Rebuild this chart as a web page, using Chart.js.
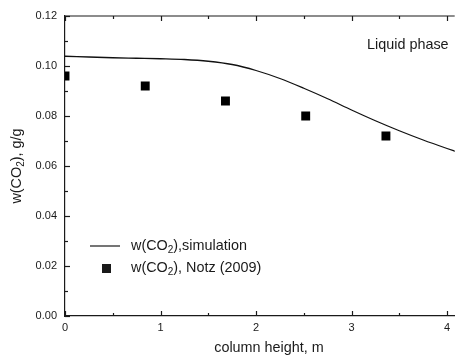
<!DOCTYPE html>
<html>
<head>
<meta charset="utf-8">
<script src="https://cdn.jsdelivr.net/npm/chart.js@4"></script>
<style>
  html, body { margin: 0; background: #fff; }
</style>
</head>
<body>
<canvas id="chart" width="461" height="356"></canvas>
<script>
// ── Data ─────────────────────────────────────────────────────────────────────
const simX = [0, 0.25, 0.5, 0.75, 1.0, 1.25, 1.5, 1.75, 2.0, 2.25, 2.5, 2.75, 3.0, 3.25, 3.5, 3.75, 4.0, 4.1];
const simY = [0.1039, 0.1036, 0.1033, 0.1031, 0.1029, 0.1026, 0.1019, 0.1006, 0.0982, 0.0950, 0.0911, 0.0869, 0.0824, 0.0781, 0.0741, 0.0704, 0.0670, 0.0657];

const notzX = [0, 0.84, 1.68, 2.52, 3.36];
const notzY = [0.096, 0.092, 0.086, 0.080, 0.072];

const xTicks = [0, 0.5, 1, 1.5, 2, 2.5, 3, 3.5, 4];
const yTicks = [0, 0.01, 0.02, 0.03, 0.04, 0.05, 0.06, 0.07, 0.08, 0.09, 0.10, 0.11, 0.12];

const X_TITLE = 'column height, m';
const NOTE = 'Liquid phase';

const FONT = "'Liberation Sans', Arial, sans-serif";
const INK = '#1a1a1a';

// ── text with a subscript part: parts = [[text, isSub], ...] ───────────────────
function partsWidth(ctx, parts) {
    return parts.reduce((w, [t, sub]) => {
        ctx.font = (sub ? '10px ' : '14.4px ') + FONT;
        return w + ctx.measureText(t).width;
    }, 0);
}
function drawParts(ctx, parts, x, y) {
    ctx.textBaseline = 'middle'; ctx.textAlign = 'left';
    parts.forEach(([t, sub]) => {
        ctx.font = (sub ? '10px ' : '14.4px ') + FONT;
        ctx.fillText(t, x, sub ? y + 4 : y);
        x += ctx.measureText(t).width;
    });
}

// ── frame, inward ticks, legend, labels ─────────────────────────────────────
const frame = {
    id: 'frame',
    afterDraw(chart) {
        const { ctx, chartArea: a, scales: { x, y } } = chart;
        const seg = (x1, y1, x2, y2) => { ctx.beginPath(); ctx.moveTo(x1, y1); ctx.lineTo(x2, y2); ctx.stroke(); };
        ctx.save();
        ctx.strokeStyle = INK; ctx.lineWidth = 1.2;
        seg(a.left, a.top, a.right, a.top);
        xTicks.forEach((v, i) => {
            const px = Math.round(x.getPixelForValue(v)) + 0.5, len = i % 2 ? 3 : 5;
            seg(px, a.bottom, px, a.bottom - len);
            seg(px, a.top, px, a.top + len);
        });
        yTicks.forEach((v, i) => {
            const py = Math.round(y.getPixelForValue(v)) + 0.5, len = i % 2 ? 3 : 5;
            seg(a.left, py, a.left + len, py);
        });

        ctx.fillStyle = INK;
        // legend
        seg(90, 246, 120, 246);
        ctx.fillRect(102, 264, 9, 9);
        drawParts(ctx, [['w(CO', 0], ['2', 1], ['),simulation', 0]], 131, 246);
        drawParts(ctx, [['w(CO', 0], ['2', 1], ['), Notz (2009)', 0]], 131, 268);

        // note
        ctx.font = '14.4px ' + FONT;
        ctx.textAlign = 'left'; ctx.textBaseline = 'middle';
        ctx.fillText(NOTE, 367, 45);

        // x title
        ctx.textAlign = 'center';
        ctx.fillText(X_TITLE, 269, 348);

        // y title (rotated)
        const yt = [['w(CO', 0], ['2', 1], ['), g/g', 0]];
        ctx.translate(17, (a.top + a.bottom) / 2);
        ctx.rotate(-Math.PI / 2);
        drawParts(ctx, yt, -partsWidth(ctx, yt) / 2, 0);
        ctx.restore();
    }
};

// ── Chart ────────────────────────────────────────────────────────────────────
new Chart(document.getElementById('chart'), {
    type: 'scatter',
    data: {
        datasets: [
            {
                data: simX.map((v, i) => ({ x: v, y: simY[i] })),
                showLine: true, pointRadius: 0,
                borderColor: '#111', borderWidth: 1.3,
                cubicInterpolationMode: 'monotone',
            },
            {
                data: notzX.map((v, i) => ({ x: v, y: notzY[i] })),
                pointStyle: 'rect', pointRadius: 6.3,
                backgroundColor: '#000', borderWidth: 0,
            }
        ]
    },
    options: {
        responsive: false, animation: false, devicePixelRatio: 1,
        layout: { padding: { top: 16, right: 0, left: 0, bottom: 0 } },
        plugins: { legend: { display: false }, tooltip: { enabled: false } },
        scales: {
            x: {
                min: 0, max: 4.08,
                afterBuildTicks: s => { s.ticks = xTicks.map(v => ({ value: v })); },
                afterFit: s => { s.height = 40; },
                grid: { display: false, drawTicks: false },
                border: { display: true, color: INK, width: 1.2 },
                ticks: {
                    autoSkip: false, maxRotation: 0, padding: 5,
                    color: INK, font: { family: FONT, size: 11 },
                    callback: v => Math.abs(v - Math.round(v)) < 1e-9 ? String(Math.round(v)) : '',
                },
            },
            y: {
                min: 0, max: 0.12,
                afterBuildTicks: s => { s.ticks = yTicks.map(v => ({ value: v })); },
                afterFit: s => { s.width = 65; },
                grid: { display: false, drawTicks: false },
                border: { display: true, color: INK, width: 1.2 },
                ticks: {
                    autoSkip: false, padding: 8,
                    color: INK, font: { family: FONT, size: 11 },
                    callback: (v, i) => i % 2 ? '' : v.toFixed(2),
                },
            },
        },
    },
    plugins: [frame],
});
</script>
</body>
</html>
